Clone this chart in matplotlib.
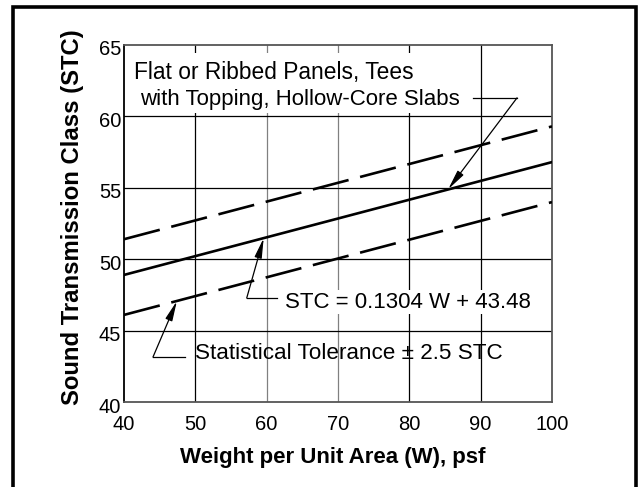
import matplotlib.pyplot as plt
from matplotlib.patches import Rectangle
from matplotlib.transforms import ScaledTranslation

plt.rcParams['font.family'] = ['Liberation Sans', 'DejaVu Sans']

# data
weight = [40, 100]                 # W, psf
stc_fit = [48.9, 56.8]             # STC = 0.1304 W + 43.48
stc_upper = [51.4, 59.3]           # + tolerance
stc_lower = [46.1, 54.0]           # - tolerance
x_ticks = [40, 50, 60, 70, 80, 90, 100]
y_ticks = [40, 45, 50, 55, 60, 65]

fig = plt.figure(figsize=(6.38, 4.87), dpi=100)
ax = fig.add_axes([0.1944, 0.1745, 0.6708, 0.7331])

ax.set_xlim(40, 100)
ax.set_ylim(40, 65)
ax.set_xticks(x_ticks)
ax.set_yticks(y_ticks)
ax.tick_params(length=0, labelsize=14.5)
ax.tick_params(axis='x', pad=9)
ax.tick_params(axis='y', pad=2)

# gridlines (60 and 70 come out lighter in the original)
for xv in x_ticks[1:-1]:
    col = '#808080' if xv in (60, 70) else 'black'
    ax.axvline(xv, color=col, lw=0.9, zorder=1)
for yv in y_ticks[1:-1]:
    ax.axhline(yv, color='black', lw=0.9, zorder=1)
for side in ['top', 'right', 'bottom']:
    ax.spines[side].set_color('#555555')
    ax.spines[side].set_linewidth(1.3)
ax.spines['left'].set_color('black')
ax.spines['left'].set_linewidth(1.3)

# white patch behind the upper label
ax.add_patch(Rectangle((40.3, 60.25), 47.5, 4.2, facecolor='white',
                       edgecolor='none', zorder=2))

ax.plot(weight, stc_fit, color='black', lw=1.9, zorder=3)
ax.plot(weight, stc_upper, color='black', lw=1.9, dashes=(14, 4.5), zorder=3)
ax.plot(weight, stc_lower, color='black', lw=1.9, dashes=(14, 4.5), zorder=3)

ax.text(41.4, 63.1, 'Flat or Ribbed Panels, Tees', fontsize=16.4,
        va='center', ha='left', zorder=4)
ax.text(42.2, 61.2, 'with Topping, Hollow-Core Slabs', fontsize=16,
        va='center', ha='left', zorder=4)
ax.text(62.5, 47.0, 'STC = 0.1304 W + 43.48', fontsize=16, va='center',
        ha='left', zorder=4,
        bbox=dict(facecolor='white', edgecolor='none', pad=1))
ax.text(49.9, 43.43, 'Statistical Tolerance ± 2.5 STC', fontsize=16.2,
        va='center', ha='left', zorder=4)

# leader lines with arrows
arrow = dict(arrowstyle='-|>,head_length=1.2,head_width=0.22', color='black',
             lw=0.9, shrinkA=0, shrinkB=0, mutation_scale=10)
leaders = [
    ((88.95, 61.3), (95.1, 61.3), (85.45, 54.9)),
    ((61.5, 47.28), (57.2, 47.28), (59.58, 51.48)),
    ((48.5, 43.15), (44.06, 43.15), (47.41, 47.07)),
]
for start, corner, tip in leaders:
    ax.plot([start[0], corner[0]], [start[1], corner[1]], color='black',
            lw=0.9, zorder=4)
    ax.annotate('', xy=tip, xytext=corner, arrowprops=arrow, zorder=4)

# nudge y tick labels a little down like the original
offset = ScaledTranslation(0, -3 / 100, fig.dpi_scale_trans)
for lbl in ax.get_yticklabels():
    lbl.set_transform(lbl.get_transform() + offset)

fig.text(332.5 / 638, 1 - 457 / 487, 'Weight per Unit Area (W), psf',
         fontsize=16, fontweight='bold', ha='center', va='center')
fig.text(73 / 638, 1 - 217.5 / 487, 'Sound Transmission Class (STC)',
         fontsize=17.2, fontweight='bold', ha='center', va='center',
         rotation=90)

# outer frame, cut off at the bottom
fig.patches.append(Rectangle((12.5 / 638, -0.05), (636 - 12.5) / 638,
                             1.05 - 6.5 / 487, transform=fig.transFigure,
                             fill=False, edgecolor='black', lw=2.6))

fig.savefig('out.png', dpi=100)
